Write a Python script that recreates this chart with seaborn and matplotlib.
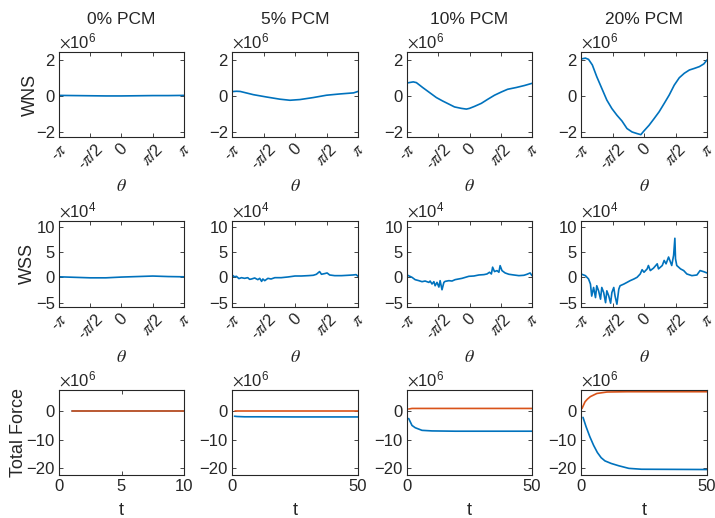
import numpy as np
import matplotlib
matplotlib.use('Agg')
import matplotlib.pyplot as plt
import seaborn as sns

# column titles / row labels
pcm_titles = ['0% PCM', '5% PCM', '10% PCM', '20% PCM']
row_labels = ['WNS', 'WSS', 'Total Force']

# WNS (x1e6), theta given in units of pi
wns0_th = [-1, -0.75, -0.5, -0.25, 0, 0.25, 0.5, 0.75, 1]
wns0 = [0.03, 0.02, 0.01, 0.0, 0.0, 0.01, 0.02, 0.02, 0.03]
wns5_th = [-1, -0.93, -0.87, -0.66, -0.45, -0.24, -0.08, 0.08, 0.29, 0.50, 0.71, 0.93, 1]
wns5 = [0.24, 0.26, 0.25, 0.07, -0.06, -0.18, -0.24, -0.20, -0.09, 0.04, 0.11, 0.17, 0.25]
wns10_th = [-1, -0.90, -0.85, -0.75, -0.64, -0.53, -0.43, -0.32, -0.24, -0.13, -0.05, 0,
            0.08, 0.19, 0.29, 0.40, 0.51, 0.61, 0.75, 0.88, 1]
wns10 = [0.72, 0.78, 0.74, 0.47, 0.19, -0.09, -0.28, -0.47, -0.61, -0.69, -0.73, -0.69,
         -0.58, -0.41, -0.19, 0.04, 0.22, 0.37, 0.47, 0.58, 0.70]
wns20_th = [-1, -0.93, -0.88, -0.82, -0.75, -0.67, -0.59, -0.51, -0.43, -0.35, -0.27, -0.19,
            -0.11, -0.05, 0, 0.08, 0.16, 0.24, 0.32, 0.40, 0.48, 0.56, 0.64, 0.72, 0.80,
            0.88, 0.95, 1]
wns20 = [2.05, 2.10, 2.03, 1.72, 1.07, 0.42, -0.23, -0.70, -1.07, -1.39, -1.81, -2.0,
         -2.09, -2.15, -1.94, -1.63, -1.26, -0.88, -0.42, 0.05, 0.60, 1.01, 1.26, 1.44,
         1.53, 1.63, 1.78, 2.0]

# WSS (x1e4)
wss0_th = [-1, -0.75, -0.5, -0.25, 0, 0.25, 0.5, 0.75, 1]
wss0 = [0.1, 0.0, -0.1, -0.1, 0.05, 0.15, 0.25, 0.15, 0.1]
wss5_th = [-1, -0.96, -0.93, -0.89, -0.85, -0.80, -0.75, -0.72, -0.69, -0.64, -0.59, -0.56,
           -0.53, -0.51, -0.48, -0.43, -0.38, -0.32, -0.22, -0.11, 0, 0.10, 0.21, 0.29,
           0.34, 0.39, 0.42, 0.47, 0.51, 0.55, 0.63, 0.74, 0.84, 0.92, 0.97, 1]
wss5 = [0.46, 0.1, 0.2, -0.25, -0.07, -0.2, -0.07, -0.4, -0.33, -0.13, -0.46, -0.2,
        -0.8, -0.33, -0.66, -0.2, -0.33, -0.07, -0.07, 0.07, 0.26, 0.26, 0.33, 0.4,
        0.6, 1.13, 0.6, 0.73, 0.86, 0.46, 0.33, 0.33, 0.4, 0.46, 0.53, 0.2]
wss10_th = [-1, -0.92, -0.87, -0.81, -0.76, -0.71, -0.65, -0.63, -0.60, -0.57, -0.55, -0.52,
            -0.49, -0.47, -0.44, -0.41, -0.39, -0.33, -0.28, -0.23, -0.12, -0.01, 0.07,
            0.15, 0.23, 0.28, 0.32, 0.35, 0.37, 0.40, 0.44, 0.47, 0.49, 0.52, 0.57, 0.63,
            0.71, 0.79, 0.87, 0.92, 0.97, 1]
wss10 = [0.46, 0.0, -0.46, -0.66, -0.86, -0.73, -1.0, -0.73, -1.32, -0.86, -1.66, -1.0,
         -1.92, -0.66, -2.45, -1.0, -0.8, -0.66, -0.73, -0.46, -0.2, 0.2, 0.26,
         0.46, 0.53, 0.66, 1.0, 0.66, 2.0, 1.13, 1.32, 1.0, 2.3, 1.32, 0.86, 0.6,
         0.46, 0.33, 0.4, 0.6, 0.86, 0.33]
wss20_th = [-1, -0.93, -0.88, -0.85, -0.83, -0.80, -0.77, -0.75, -0.72, -0.69, -0.67, -0.64,
            -0.61, -0.59, -0.56, -0.53, -0.51, -0.48, -0.46, -0.43, -0.40, -0.38, -0.32,
            -0.27, -0.22, -0.16, -0.11, -0.06, -0.03, 0, 0.05, 0.07, 0.10, 0.15, 0.21,
            0.23, 0.29, 0.32, 0.35, 0.39, 0.42, 0.44, 0.47, 0.49, 0.50, 0.52, 0.58, 0.63,
            0.68, 0.76, 0.84, 0.89, 0.95, 1]
wss20 = [0.66, 0.33, -0.33, -1.33, -3.7, -2.0, -4.0, -1.66, -2.7, -4.3, -2.0, -3.0,
         -5.0, -2.66, -3.66, -5.1, -3.0, -2.0, -3.66, -5.3, -2.33, -1.66, -1.33,
         -1.0, -0.66, -0.33, 0.0, 0.66, 1.5, 1.0, 1.66, 2.33, 1.33, 1.8, 2.66,
         1.66, 2.33, 3.33, 2.66, 4.0, 3.0, 2.33, 4.33, 7.7, 3.66, 2.33, 1.66, 1.33,
         0.66, 0.33, 0.46, 1.33, 1.1, 0.86]

# Total force (x1e6): blue and orange series
tf0_t = [1, 2.5, 5, 7.5, 10]
tf0_blue = [-0.1, -0.1, -0.1, -0.1, -0.1]
tf0_orange = [-0.05, -0.05, -0.05, -0.05, -0.05]
tf5_t = [1, 2, 5, 10, 25, 50]
tf5_blue = [-1.9, -2.0, -2.1, -2.1, -2.15, -2.15]
tf5_orange = [0.0, 0.0, 0.0, 0.0, 0.0, 0.0]
tf10_t = [0.67, 2, 3.3, 6, 10, 19.3, 50]
tf10_blue = [-2.7, -5.1, -5.9, -6.8, -7.0, -7.1, -7.1]
tf10_orange = [0.6, 0.8, 0.8, 0.8, 0.8, 0.8, 0.8]
tf20_t_blue = [0.8, 2, 3.5, 5, 6.5, 8, 9.5, 12, 15, 19, 24, 50]
tf20_blue = [-2.3, -5.5, -9.0, -12.0, -14.5, -16.3, -17.4, -18.3, -19.1, -20.0, -20.3, -20.4]
tf20_t_orange = [0.4, 1.6, 2.5, 3.7, 6.3, 10.3, 18.3, 50]
tf20_orange = [0.8, 3.1, 4.0, 4.9, 6.0, 6.5, 6.6, 6.6]

blue = '#0072BD'
orange = '#D95319'
axcol = '#262626'

sns.set_style('ticks')
plt.rcParams['font.family'] = ['Liberation Sans', 'DejaVu Sans']
plt.rcParams['mathtext.fontset'] = 'stix'

fig = plt.figure(figsize=(7.15, 5.18), dpi=100)

# axes boxes in pixels
lefts = [59, 232, 407, 581]
widths = [125, 126, 125, 126]
rows = [(52, 137), (221, 307), (390, 475)]


def make_ax(r, c):
    top, bot = rows[r]
    return fig.add_axes([lefts[c] / 715, 1 - bot / 518, widths[c] / 715, (bot - top) / 518])


def style(ax, ylim, yticks, exp):
    ax.set_ylim(ylim)
    ax.set_yticks(yticks)
    ax.tick_params(direction='in', length=3, width=0.6, top=True, right=True,
                   labelsize=12, color=axcol, labelcolor='#262626', pad=3)
    for s in ax.spines.values():
        s.set_color(axcol)
        s.set_linewidth(0.8)
    ax.text(0, 1.015, r'$\times\mathregular{10^{%d}}$' % exp, transform=ax.transAxes,
            ha='left', va='bottom', fontsize=12, color='#262626')


theta_ticks = np.array([-1, -0.5, 0, 0.5, 1]) * np.pi
theta_labels = [r'-$\pi$', r'-$\pi$/2', '0', r'$\pi$/2', r'$\pi$']

wns_th = [wns0_th, wns5_th, wns10_th, wns20_th]
wns_v = [wns0, wns5, wns10, wns20]
wss_th = [wss0_th, wss5_th, wss10_th, wss20_th]
wss_v = [wss0, wss5, wss10, wss20]
tf = [(tf0_t, tf0_blue, tf0_t, tf0_orange),
      (tf5_t, tf5_blue, tf5_t, tf5_orange),
      (tf10_t, tf10_blue, tf10_t, tf10_orange),
      (tf20_t_blue, tf20_blue, tf20_t_orange, tf20_orange)]

for c in range(4):
    for r, (ths, vals, ylim, yt, exp) in enumerate([
            (wns_th, wns_v, (-2.28, 2.44), [-2, 0, 2], 6),
            (wss_th, wss_v, (-5.85, 11.1), [-5, 0, 5, 10], 4)]):
        ax = make_ax(r, c)
        sns.lineplot(x=np.array(ths[c]) * np.pi, y=vals[c], ax=ax, color=blue, linewidth=1.2)
        ax.set_xlim(-np.pi, np.pi)
        style(ax, ylim, yt, exp)
        ax.set_xticks(theta_ticks)
        ax.set_xticklabels(theta_labels, rotation=45, ha='center', va='top')
        ax.set_xlabel(r'$\theta$', fontsize=13, va='center')
        ax.xaxis.set_label_coords(0.5, -0.585)
        if r == 0:
            ax.set_title(pcm_titles[c], fontsize=12.5, pad=20, color='#262626')
        if c == 0:
            ax.set_ylabel(row_labels[r], fontsize=13, va='center')
            ax.yaxis.set_label_coords(-0.232 if r == 0 else -0.252, 0.5)

    # row 3: total force
    ax = make_ax(2, c)
    tb, vb, to, vo = tf[c]
    sns.lineplot(x=tb, y=vb, ax=ax, color=blue, linewidth=1.2)
    sns.lineplot(x=to, y=vo, ax=ax, color=orange, linewidth=1.2)
    style(ax, (-22.3, 7.2), [-20, -10, 0], 6)
    if c == 0:
        ax.set_xlim(0, 10)
        ax.set_xticks([0, 5, 10])
        ax.set_ylabel(row_labels[2], fontsize=13, va='center')
        ax.yaxis.set_label_coords(-0.325, 0.5)
    else:
        ax.set_xlim(0, 50)
        ax.set_xticks([0, 50])
    ax.set_xlabel('t', fontsize=13, va='center')
    ax.xaxis.set_label_coords(0.5, -0.42)

fig.savefig('out.png', dpi=100)
